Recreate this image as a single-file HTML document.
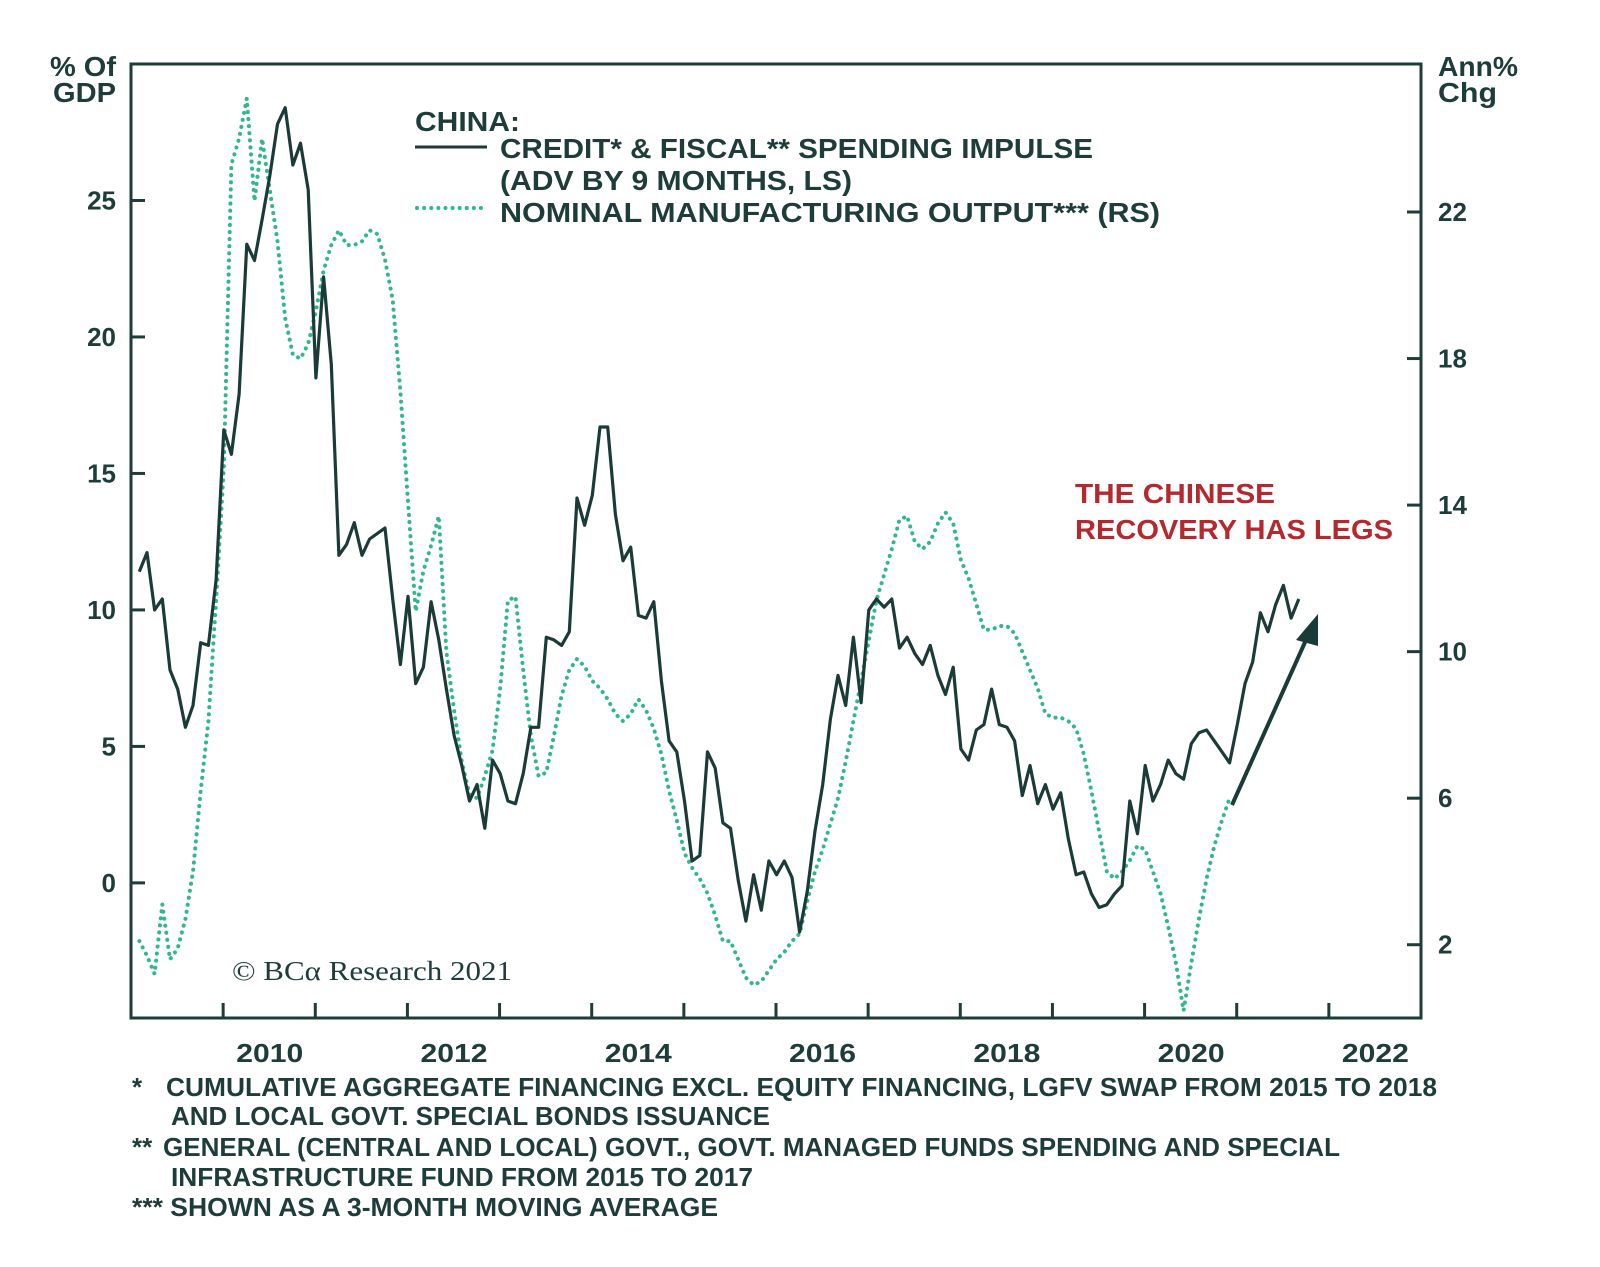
<!DOCTYPE html>
<html><head><meta charset="utf-8"><style>
html,body{margin:0;padding:0;background:#fff;}
svg{display:block;font-family:"Liberation Sans",sans-serif;}
</style></head><body>
<svg id="chart" width="1600" height="1267" viewBox="0 0 1600 1267" xmlns="http://www.w3.org/2000/svg">
<g id="axes"></g>
<g id="series"></g>
<g fill="#1d3c3a" font-weight="bold" font-size="28" lengthAdjust="spacingAndGlyphs">
<text x="50" y="76" textLength="66" lengthAdjust="spacingAndGlyphs">% Of</text><text x="53" y="102" textLength="63" lengthAdjust="spacingAndGlyphs">GDP</text></g>
<g fill="#1d3c3a" font-weight="bold" font-size="28">
<text x="1438" y="76" textLength="80" lengthAdjust="spacingAndGlyphs">Ann%</text><text x="1438" y="102" textLength="59" lengthAdjust="spacingAndGlyphs">Chg</text></g>
<g fill="#1d3c3a" font-weight="bold" font-size="28">
<text x="415" y="131" textLength="105" lengthAdjust="spacingAndGlyphs">CHINA:</text>
<line x1="415" y1="147" x2="487" y2="147" stroke="#1b3b38" stroke-width="3"/>
<text x="500" y="158" textLength="593" lengthAdjust="spacingAndGlyphs">CREDIT* &amp; FISCAL** SPENDING IMPULSE</text>
<text x="500" y="190" textLength="352" lengthAdjust="spacingAndGlyphs">(ADV BY 9 MONTHS, LS)</text>
<line x1="417" y1="208" x2="487" y2="208" stroke="#30b88c" stroke-width="4" stroke-dasharray="0.1,7" stroke-linecap="round"/>
<text x="500" y="222" textLength="660" lengthAdjust="spacingAndGlyphs">NOMINAL MANUFACTURING OUTPUT*** (RS)</text>
</g>
<g fill="#b5282e" font-weight="bold" font-size="28">
<text x="1075" y="503" textLength="200" lengthAdjust="spacingAndGlyphs">THE CHINESE</text><text x="1075" y="539" textLength="318" lengthAdjust="spacingAndGlyphs">RECOVERY HAS LEGS</text></g>
<g>
<line x1="1232" y1="805" x2="1306" y2="640" stroke="#1b3b38" stroke-width="4"/>
<polygon points="1318,614 1296,640 1318,646" fill="#1b3b38"/></g>
<text x="232" y="980" font-family="'Liberation Serif',serif" font-size="27" fill="#1d3c3a" textLength="280" lengthAdjust="spacingAndGlyphs">© BCα Research 2021</text>
<g fill="#1d3c3a" font-weight="bold" font-size="26">
<text x="132" y="1096">*</text><text x="166" y="1096" textLength="1271" lengthAdjust="spacingAndGlyphs">CUMULATIVE AGGREGATE FINANCING EXCL. EQUITY FINANCING, LGFV SWAP FROM 2015 TO 2018</text>
<text x="171" y="1125" textLength="599" lengthAdjust="spacingAndGlyphs">AND LOCAL GOVT. SPECIAL BONDS ISSUANCE</text>
<text x="132" y="1156">**</text><text x="163" y="1156" textLength="1177" lengthAdjust="spacingAndGlyphs">GENERAL (CENTRAL AND LOCAL) GOVT., GOVT. MANAGED FUNDS SPENDING AND SPECIAL</text>
<text x="171" y="1186" textLength="582" lengthAdjust="spacingAndGlyphs">INFRASTRUCTURE FUND FROM 2015 TO 2017</text>
<text x="132" y="1216" textLength="586" lengthAdjust="spacingAndGlyphs">*** SHOWN AS A 3-MONTH MOVING AVERAGE</text>
</g>
</svg>
<script>
const startYear = 2009.09;
const creditImpulse = [11.4,12.1,10,10.4,7.8,7.1,5.7,6.5,8.8,8.7,11.1,16.6,15.7,17.9,23.4,22.8,24.3,25.9,27.8,28.4,26.3,27.1,25.4,18.5,22.2,19.0,12.0,12.4,13.2,12.0,12.6,12.8,13.0,10.4,8.0,10.5,7.3,7.9,10.3,8.9,7.1,5.4,4.3,3.0,3.6,2.0,4.5,4.0,3.0,2.9,4.0,5.7,5.7,9.0,8.9,8.7,9.2,14.1,13.1,14.2,16.7,16.7,13.5,11.8,12.3,9.8,9.7,10.3,7.4,5.2,4.8,3.0,0.8,1.0,4.8,4.2,2.2,2.0,0.1,-1.4,0.3,-1.0,0.8,0.3,0.8,0.2,-1.8,-0.3,1.9,3.6,6.0,7.6,6.5,9.0,6.6,10.0,10.4,10.1,10.4,8.6,9.0,8.4,8.0,8.7,7.6,6.9,7.9,4.9,4.5,5.6,5.8,7.1,5.8,5.7,5.2,3.2,4.3,2.9,3.6,2.7,3.3,1.6,0.3,0.4,-0.4,-0.9,-0.8,-0.4,-0.1,3.0,1.8,4.3,3.0,3.6,4.5,4.0,3.8,5.1,5.5,5.6,5.2,4.8,4.4,5.8,7.3,8.1,9.9,9.2,10.2,10.9,9.7,10.4];
const manufacturing = [2.1,1.7,1.2,3.1,1.6,1.9,2.7,4.0,6.2,8.1,11.4,15.0,23.3,24.0,25.1,22.3,24.0,22.6,21.2,19.1,18.1,18.0,18.4,19.3,20.4,21.1,21.5,21.1,21.1,21.2,21.5,21.4,20.7,19.6,17.1,14.1,11.1,12.2,12.9,13.7,10.0,8.4,7.0,6.1,6.0,6.6,7.3,9.0,11.4,11.5,9.5,7.7,6.6,6.7,7.7,8.8,9.5,9.8,9.6,9.2,9.0,8.7,8.3,8.1,8.3,8.7,8.4,7.9,7.2,6.2,5.4,4.5,4.1,3.8,3.4,2.8,2.1,2.1,1.6,1.1,0.9,1.0,1.3,1.6,1.8,2.1,2.3,3.2,4.0,4.6,5.3,6.0,7.0,8.1,9.2,10.3,11.4,12.1,12.8,13.6,13.7,13.0,12.8,13.0,13.5,13.8,13.5,12.5,12.0,11.3,10.6,10.6,10.7,10.7,10.5,10.0,9.5,9.0,8.3,8.2,8.2,8.1,7.9,7.2,6.2,5.1,4.0,3.8,4.0,4.3,4.7,4.6,4.0,3.4,2.5,1.5,0.2,1.5,2.7,3.8,4.7,5.4,6.0];
const leftTicks = [0,5,10,15,20,25];
const rightTicks = [2,6,10,14,18,22];
const yearLabels = [2010,2012,2014,2016,2018,2020,2022];

const PL=131,PR=1421,PT=64,PB=1018;
const x = yr => PL + (yr-2009)/(2023-2009)*(PR-PL);
const yL = v => PB - (v-(-4.95))/(30-(-4.95))*(PB-PT);
const yR = v => PB - (v-0)/(26.04-0)*(PB-PT);
const NS="http://www.w3.org/2000/svg";
function mk(tag, attrs, parent){const e=document.createElementNS(NS,tag);for(const k in attrs)e.setAttribute(k,attrs[k]);parent.appendChild(e);return e;}
const axes=document.getElementById('axes'), series=document.getElementById('series');
const C="#1d3c3a";
const frame=mk('rect',{x:PL,y:PT,width:PR-PL,height:PB-PT,fill:'none',stroke:C,'stroke-width':3},axes);


leftTicks.forEach(v=>{
  const t=mk('line',{x1:PL,x2:PL+14,y1:yL(v),y2:yL(v),stroke:C,'stroke-width':3},axes);
  
  
  const l=mk('text',{x:116,y:yL(v)+9,'text-anchor':'end','font-size':26,'font-weight':'bold',fill:C},axes);
  l.textContent=v;
  
  
});
rightTicks.forEach(v=>{
  const t=mk('line',{x1:PR-14,x2:PR,y1:yR(v),y2:yR(v),stroke:C,'stroke-width':3},axes);
  
  
  const l=mk('text',{x:1438,y:yR(v)+9,'font-size':26,'font-weight':'bold',fill:C},axes);
  l.textContent=v;
  
  
});
for(let yr=2010;yr<=2022;yr++){
  const t=mk('line',{x1:x(yr),x2:x(yr),y1:PB,y2:PB-15,stroke:C,'stroke-width':3},axes);
  
  
}
yearLabels.forEach(yr=>{
  const l=mk('text',{x:x(yr+0.5)-33,y:1062,'font-size':26,'font-weight':'bold',fill:C,textLength:67,lengthAdjust:'spacingAndGlyphs'},axes);
  l.textContent=yr;
  
  
});
const p1=manufacturing.map((v,i)=>x(startYear+i/12).toFixed(1)+','+yR(v).toFixed(1)).join(' ');
const m=mk('polyline',{points:p1,fill:'none',stroke:'#30b88c','stroke-width':4,'stroke-dasharray':'0.1,7','stroke-linecap':'round'},series);


const p2=creditImpulse.map((v,i)=>x(startYear+i/12).toFixed(1)+','+yL(v).toFixed(1)).join(' ');
const c=mk('polyline',{points:p2,fill:'none',stroke:'#1b3b38','stroke-width':3.2,'stroke-linejoin':'round'},series);


</script>
</body></html>
